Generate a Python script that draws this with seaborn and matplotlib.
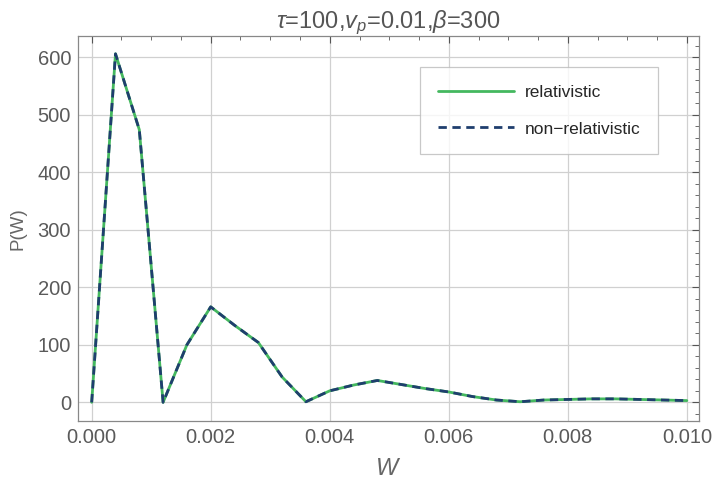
import numpy as np
import pandas as pd
import matplotlib
matplotlib.use('Agg')
import matplotlib.pyplot as plt
from matplotlib.ticker import MultipleLocator
import seaborn as sns

# values, W step 0.0004
W = np.round(np.arange(0, 0.01 + 1e-9, 0.0004), 4)
p_rel = [0, 606, 474, 0, 100, 166, 134, 104, 44, 1, 20, 30, 38, 31, 24, 18,
         10, 4, 1, 4, 5, 6, 6, 5, 4, 3]
p_nonrel = p_rel

df = pd.DataFrame({'W': W, 'relativistic': p_rel, 'non-relativistic': p_nonrel})

sns.set_style("white")
plt.rcParams['font.family'] = ['Liberation Sans', 'DejaVu Sans']
plt.rcParams['mathtext.fontset'] = 'custom'
plt.rcParams['mathtext.it'] = 'Liberation Sans:italic'
plt.rcParams['mathtext.rm'] = 'Liberation Sans'

fig = plt.figure(figsize=(7.13, 4.80), dpi=100)
ax = fig.add_axes([0.1094, 0.1235, 0.8706, 0.8015])

sns.lineplot(data=df, x='W', y='relativistic', ax=ax, color='#44b85f',
             linewidth=2.0, label='relativistic')
sns.lineplot(data=df, x='W', y='non-relativistic', ax=ax, color='#1f3e6e',
             linewidth=2.0, linestyle=(0, (3.0, 2.0)), label='non\u2212relativistic')

ax.set_xlim(-0.00023, 0.0102)
ax.set_ylim(-32, 637)
ax.xaxis.set_major_locator(MultipleLocator(0.002))
ax.xaxis.set_minor_locator(MultipleLocator(0.0005))
ax.yaxis.set_major_locator(MultipleLocator(100))
ax.yaxis.set_minor_locator(MultipleLocator(20))
ax.set_xticks(ax.get_xticks())
ax.set_xticklabels([f'{v:.3f}' for v in ax.get_xticks()])
ax.set_xlim(-0.00023, 0.0102)
ax.grid(True, which='major', color='#d0d0d0', linewidth=0.9)

ax.tick_params(which='both', direction='in', top=True, right=True,
               colors='#555555', labelsize=14.5, labelcolor='#5a5a5a')
ax.tick_params(which='major', length=5, width=0.8, pad=5)
ax.tick_params(which='minor', length=3, width=0.6)
for s in ax.spines.values():
    s.set_color('#888888')
    s.set_linewidth(0.9)

ax.set_title(r'$\tau$=100,$v_p$=0.01,$\beta$=300', fontsize=17, color='#555555', pad=6)
ax.set_xlabel('$W$', fontsize=17, color='#666666', labelpad=8)
ax.set_ylabel('P(W)', fontsize=13.5, color='#666666', labelpad=8)

leg = ax.legend(loc='upper right', bbox_to_anchor=(0.934, 0.919), frameon=True,
                fancybox=False, fontsize=12.5, handlelength=4.4, borderpad=1.0,
                labelspacing=1.25, handletextpad=0.6, borderaxespad=0)
leg.get_frame().set_edgecolor('#bbbbbb')
leg.get_frame().set_linewidth(0.9)

plt.savefig('out.png', dpi=100)
